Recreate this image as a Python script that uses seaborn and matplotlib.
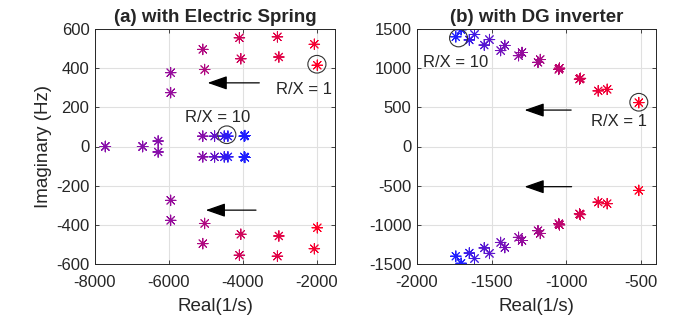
import numpy as np
import pandas as pd
import matplotlib
matplotlib.use("Agg")
import matplotlib.pyplot as plt
import seaborn as sns
from matplotlib.patches import Ellipse

# ---------------- data ----------------
# panel (a): with Electric Spring  (t: 0 = red (R/X=1) ... 1 = blue (R/X=10))
# upper half-plane poles; the lower half-plane poles are their conjugates
a_real = [-7720, -6710, -6290, -5950, -5950,
          -5080, -5030, -4090, -4050,
          -3060, -3020, -2060, -1980,
          -5080, -4760, -4500, -4400, -3960, -3940]
a_imag = [0, 0, 28, 377, 275,
          496, 393, 555, 448,
          560, 457, 522, 415,
          53, 53, 53, 53, 53, 56]
a_t = [0.62, 0.62, 0.62, 0.55, 0.55,
       0.42, 0.42, 0.25, 0.25,
       0.15, 0.15, 0.05, 0.0,
       0.62, 0.75, 0.9, 0.95, 1.0, 1.0]

# panel (b): with DG inverter (upper branch; lower branch = conjugates)
b_real = [-1740, -1705, -1650, -1615, -1550, -1515, -1440, -1412, -1320, -1297,
          -1190, -1175, -1051, -1046, -912, -906, -787, -727, -515]
b_imag = [1400, 1490, 1360, 1430, 1295, 1365, 1225, 1290, 1160, 1200,
          1075, 1110, 985, 1000, 860, 870, 710, 730, 560]
b_t = [1.0, 1.0, 0.9, 0.88, 0.8, 0.78, 0.7, 0.68, 0.58, 0.56,
       0.48, 0.46, 0.35, 0.34, 0.22, 0.21, 0.1, 0.08, 0.0]

a_xticks = [-8000, -6000, -4000, -2000]
a_yticks = [-600, -400, -200, 0, 200, 400, 600]
b_xticks = [-2000, -1500, -1000, -500]
b_yticks = [-1500, -1000, -500, 0, 500, 1000, 1500]


def blend(t):
    red = np.array([1.0, 0.0, 0.15])
    purple = np.array([0.55, 0.05, 0.65])
    blue = np.array([0.12, 0.12, 1.0])
    if t <= 0.6:
        c = red + (purple - red) * (t / 0.6)
    else:
        c = purple + (blue - purple) * ((t - 0.6) / 0.4)
    return matplotlib.colors.to_hex(np.clip(c, 0, 1))


def conj_frame(xs, ys, ts):
    x = list(xs) + list(xs)
    y = list(ys) + [-v for v in ys]
    c = [blend(t) for t in list(ts) + list(ts)]
    return pd.DataFrame({"x": x, "y": y, "c": c})


sns.set_theme(style="whitegrid")
plt.rcParams['font.family'] = ['Liberation Sans', 'DejaVu Sans']
plt.rcParams['axes.unicode_minus'] = False

fig = plt.figure(figsize=(6.73, 3.2), dpi=100)
ax1 = fig.add_axes([95 / 673, 56 / 320, 240 / 673, 235 / 320])
ax2 = fig.add_axes([417 / 673, 56 / 320, 239 / 673, 235 / 320])

marker = (8, 2, 0)

dfa = conj_frame(a_real, a_imag, a_t)
sns.scatterplot(data=dfa, x="x", y="y", hue="c",
                palette={c: c for c in dfa["c"].unique()},
                marker=marker, s=58, linewidth=0.7, legend=False, ax=ax1)

dfb = conj_frame(b_real, b_imag, b_t)
sns.scatterplot(data=dfb, x="x", y="y", hue="c",
                palette={c: c for c in dfb["c"].unique()},
                marker=marker, s=58, linewidth=0.7, legend=False, ax=ax2)

dark = "#262626"
for ax in (ax1, ax2):
    for sp in ax.spines.values():
        sp.set_color(dark)
        sp.set_linewidth(0.7)
    ax.grid(True, color="#e0e0e0", linewidth=0.8)
    ax.tick_params(direction="in", length=3, width=0.6, colors=dark,
                   labelsize=12, top=True, right=True,
                   bottom=True, left=True, labeltop=False, labelright=False)
    ax.tick_params(axis="x", pad=8)
    ax.tick_params(axis="y", pad=4)
    ax.set_xlabel("Real(1/s)", fontsize=13.5, color=dark, labelpad=6)
    ax.set_facecolor("white")

ax1.set_xlim(-8000, -1500)
ax1.set_ylim(-600, 600)
ax1.set_xticks(a_xticks)
ax1.set_yticks(a_yticks)
ax1.set_ylabel("Imaginary (Hz)", fontsize=13.5, color=dark, labelpad=3)
ax1.set_title("(a) with Electric Spring", fontsize=13.5, fontweight="bold", pad=5)

ax2.set_xlim(-2000, -400)
ax2.set_ylim(-1500, 1500)
ax2.set_xticks(b_xticks)
ax2.set_yticks(b_yticks)
ax2.set_ylabel("")
ax2.set_title("(b) with DG inverter", fontsize=13.5, fontweight="bold", pad=5)

arrow = dict(arrowstyle="-|>,head_length=1.0,head_width=0.35", color="black",
             lw=0.9, shrinkA=0, shrinkB=0)
# panel (a) annotations
ax1.annotate("", xy=(-4950, 325), xytext=(-3550, 325), arrowprops=arrow)
ax1.annotate("", xy=(-5000, -325), xytext=(-3640, -325), arrowprops=arrow)
ax1.text(-3100, 290, "R/X = 1", fontsize=12, va="center", ha="left", color=dark)
ax1.text(-5550, 150, "R/X = 10", fontsize=12, va="center", ha="left", color=dark)
ax1.add_patch(Ellipse((-1990, 420), width=490, height=90, fill=False,
                      edgecolor="#333333", lw=0.8))
ax1.add_patch(Ellipse((-4430, 60), width=490, height=90, fill=False,
                      edgecolor="#333333", lw=0.8))

# panel (b) annotations
ax2.annotate("", xy=(-1280, 465), xytext=(-968, 465), arrowprops=arrow)
ax2.annotate("", xy=(-1280, -513), xytext=(-965, -513), arrowprops=arrow)
ax2.text(-1960, 1075, "R/X = 10", fontsize=12, va="center", ha="left", color=dark)
ax2.text(-835, 313, "R/X = 1", fontsize=12, va="center", ha="left", color=dark)
ax2.add_patch(Ellipse((-1722, 1385), width=120, height=225, fill=False,
                      edgecolor="#333333", lw=0.8))
ax2.add_patch(Ellipse((-515, 565), width=120, height=225, fill=False,
                      edgecolor="#333333", lw=0.8))

fig.savefig("out.png", dpi=100, facecolor="white")
